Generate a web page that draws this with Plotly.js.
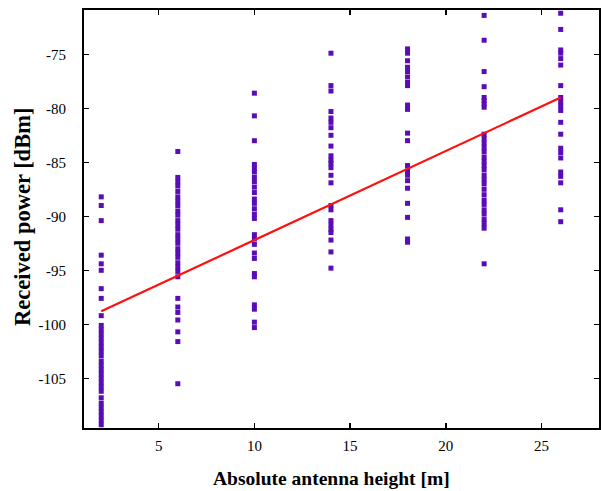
<!DOCTYPE html>
<html>
<head>
<meta charset="utf-8">
<script src="https://cdn.plot.ly/plotly-3.0.1.min.js"></script>
<style>html,body{margin:0;padding:0;background:#fff;}#chart{width:601px;height:491px;}</style>
</head>
<body>
<div id="chart"></div>
<script>
// Measured received power at each absolute antenna height (dBm)
const heights = [2, 6, 10, 14, 18, 22, 26];
const p2 = [-88.2, -89.0, -90.4, -93.6, -94.4, -95.0, -96.7, -97.6, -99.2, -100.1,
  -100.5, -100.9, -101.3, -101.7, -102.1, -102.5, -102.9, -103.4, -103.8, -104.2,
  -104.6, -105.0, -105.4, -105.8, -106.2, -106.8, -107.3, -107.7, -108.1, -108.5,
  -108.9, -109.3];
const p6 = [-84.0, -86.4, -86.8, -87.2, -87.7, -88.2, -88.6, -89.0, -89.5, -89.9,
  -90.4, -90.8, -91.2, -91.7, -92.1, -92.5, -93.0, -93.4, -93.8, -94.3, -94.7,
  -95.1, -95.6, -97.6, -98.4, -98.9, -99.6, -100.7, -101.6, -105.5];
const p10 = [-78.6, -80.7, -83.0, -85.2, -85.6, -85.9, -86.4, -86.8, -87.3, -87.8,
  -88.4, -88.8, -89.3, -89.8, -90.2, -91.7, -92.1, -92.6, -93.4, -93.9, -95.3,
  -95.6, -98.2, -98.6, -99.8, -100.3];
const p14 = [-74.9, -77.9, -78.4, -80.3, -80.9, -81.3, -81.8, -82.5, -83.5, -84.4,
  -84.8, -85.1, -85.5, -86.2, -86.9, -89.0, -89.4, -90.4, -90.8, -91.2, -91.5,
  -92.2, -93.3, -94.8];
const p18 = [-74.5, -74.9, -75.6, -76.2, -76.6, -77.1, -77.6, -77.9, -79.7, -80.1,
  -82.3, -83.0, -85.3, -85.8, -86.2, -86.7, -87.4, -88.8, -90.1, -92.1, -92.4];
const p22 = [-71.4, -73.7, -76.6, -78.0, -79.0, -79.3, -79.6, -79.9, -82.4, -82.8,
  -83.2, -83.6, -84.0, -84.5, -84.9, -85.3, -85.7, -86.2, -86.6, -87.0, -87.5,
  -88.0, -88.5, -88.9, -89.4, -89.8, -90.3, -90.7, -91.1, -94.4];
const p26 = [-71.2, -72.7, -74.6, -74.9, -75.4, -76.0, -77.9, -79.0, -79.4, -79.8,
  -80.2, -81.3, -82.4, -83.7, -84.1, -84.6, -85.9, -86.3, -86.9, -89.4, -90.5];
const fitX = [2, 26];
const fitY = [-98.8, -79.0];
const xTickVals = [5, 10, 15, 20, 25];
const xTickText = ['5', '10', '15', '20', '25'];
const yTickVals = [-105, -100, -95, -90, -85, -80, -75];
const yTickText = ['-105', '-100', '-95', '-90', '-85', '-80', '-75'];
const xTitle = 'Absolute antenna height [m]';
const yTitle = 'Received power [dBm]';

const groups = [p2, p6, p10, p14, p18, p22, p26];
const xs = [], ys = [];
groups.forEach((g, i) => g.forEach(v => { xs.push(heights[i]); ys.push(v); }));

const serif = 'Liberation Serif, Times New Roman, Times, serif';
const data = [
  {x: xs, y: ys, type: 'scatter', mode: 'markers',
   marker: {symbol: 'square', size: 5, color: '#5a0cb6'}, showlegend: false},
  {x: fitX, y: fitY, type: 'scatter', mode: 'lines',
   line: {color: '#ff1010', width: 2.2}, showlegend: false}
];
const axisCommon = {
  showline: true, linecolor: '#000', linewidth: 2, mirror: 'ticks',
  ticks: 'inside', ticklen: 5, tickwidth: 1.5, tickcolor: '#000',
  showgrid: false, zeroline: false,
  tickfont: {family: serif, size: 15, color: '#000'}
};
const layout = {
  width: 601, height: 491,
  margin: {l: 84, r: 2, t: 10, b: 63},
  paper_bgcolor: '#fff', plot_bgcolor: '#fff',
  font: {family: serif, color: '#000'},
  xaxis: Object.assign({}, axisCommon, {
    range: [1.1, 28], tickmode: 'array', tickvals: xTickVals, ticktext: xTickText,
    ticklabelstandoff: 3
  }),
  yaxis: Object.assign({}, axisCommon, {
    range: [-109.6, -70.9], tickmode: 'array', tickvals: yTickVals, ticktext: yTickText,
    ticklabelstandoff: 13
  }),
  annotations: [
    {text: '<b>' + xTitle + '</b>', xref: 'paper', yref: 'paper', x: 0.4806, y: 0,
     xanchor: 'center', yanchor: 'middle', yshift: -50, showarrow: false,
     font: {family: serif, size: 19.5, color: '#000'}},
    {text: '<b>' + yTitle + '</b>', xref: 'paper', yref: 'paper', x: 0, y: 0.505,
     xanchor: 'center', yanchor: 'middle', xshift: -61, textangle: -90, showarrow: false,
     font: {family: serif, size: 22.5, color: '#000'}}
  ]
};
Plotly.newPlot('chart', data, layout, {staticPlot: true, displayModeBar: false});
</script>
</body>
</html>
